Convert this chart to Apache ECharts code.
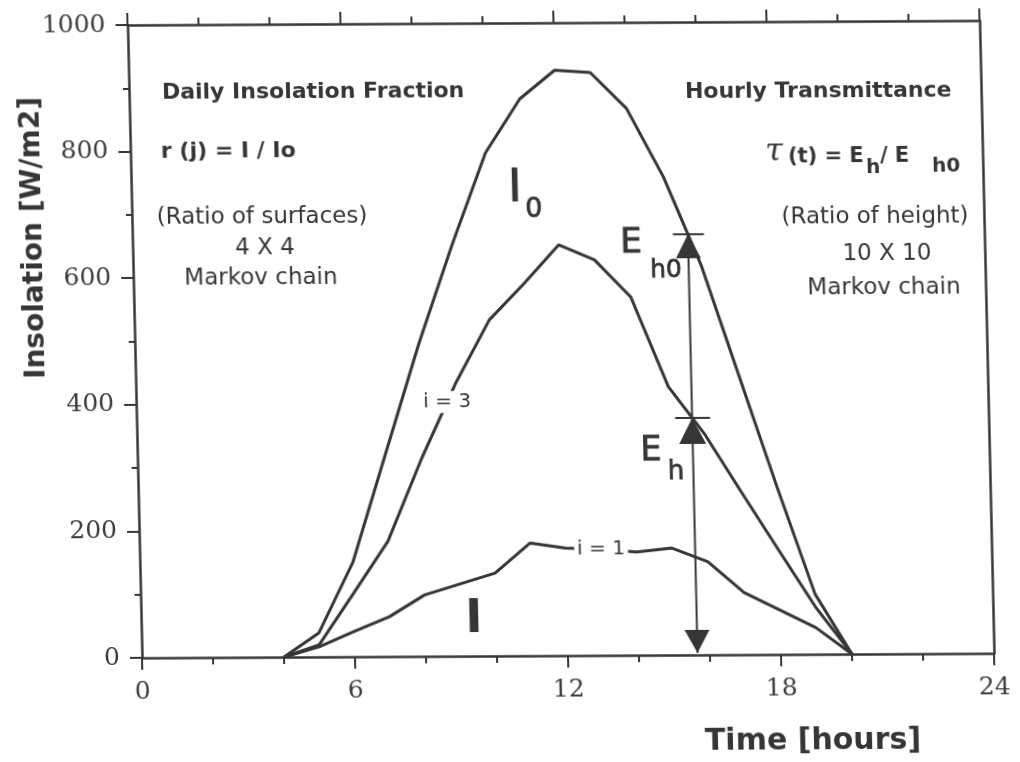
<!DOCTYPE html>
<html>
<head>
<meta charset="utf-8">
<script src="https://cdn.jsdelivr.net/npm/echarts@6/dist/echarts.min.js"></script>
<style>
  html, body { margin: 0; padding: 0; background: #ffffff; overflow: hidden; }
  /* the whole plate is drawn slightly slanted, pivoting on the origin of the axes */
  #chart { width: 1020px; height: 762px; transform-origin: 142px 658px;
           transform: matrix(1, -0.0053, 0.0229, 1, 0, 0); }
</style>
</head>
<body>
<div id="chart"></div>
<script>
// ---- data -----------------------------------------------------------------
const hours = [4, 5, 6, 7, 8, 9, 10, 11, 12, 13, 14, 15, 16, 17, 18, 19, 20];
// extraterrestrial / clear-sky insolation I0 [W/m2]
const clearSky = [0, 38, 149, 322, 494, 650, 795, 880, 925, 921, 864, 755, 616, 440, 264, 95, 0];
// Markov state i = 3
const stateThree = [0, 19, 100, 182, 312, 430, 531, 588, 649, 625, 566, 424, 348, 256, 165, 75, 0];
// Markov state i = 1 (insolation I)
const stateOne = [0, 16, 40, 63, 97, 114, 131, 178, 170, 168, 163, 169, 147, 98, 70, 42, 0];

const xTickValues = [0, 6, 12, 18, 24];
const yTickValues = [0, 200, 400, 600, 800, 1000];

const arrowHour = 15.65;          // where E_h and E_h0 are measured
const stateLabels = [
  { text: 'i = 3', hour: 8.76, series: stateThree },
  { text: 'i = 1', hour: 13, series: stateOne }
];

// ---- helpers --------------------------------------------------------------
const INK = '#363636';
const SANS = '"DejaVu Sans", "Liberation Sans", sans-serif';
const SERIF = '"DejaVu Serif", "Liberation Serif", serif';

function valueAt(series, t) {
  for (let k = 0; k < hours.length - 1; k++) {
    if (t >= hours[k] && t <= hours[k + 1]) {
      const f = (t - hours[k]) / (hours[k + 1] - hours[k]);
      return series[k] + f * (series[k + 1] - series[k]);
    }
  }
  return 0;
}
function pairs(series) { return hours.map((h, k) => [h, series[k]]); }

// screen position -> position inside the slanted plate
const SX = 0.0229, SY = -0.0053, OX = 142, OY = 658;
function page(x, y) {
  const u = x - OX, v = y - OY, det = 1 - SX * SY;
  return [OX + (u - SX * v) / det, OY + (v - SY * u) / det];
}
function label(text, x, y, font, align, rotation, weight) {
  const p = page(x, y);
  const style = { text: text, font: font, fill: INK, textAlign: align || 'left', textVerticalAlign: 'middle' };
  if (weight) { style.stroke = INK; style.lineWidth = weight; }
  return { type: 'text', x: p[0], y: p[1], rotation: rotation || 0, z: 50, style: style };
}

// ---- axes -----------------------------------------------------------------
const xStep = xTickValues[1] - xTickValues[0];
const yStep = yTickValues[1] - yTickValues[0];
const lineAxis = { show: true, onZero: false, lineStyle: { color: INK, width: 2.5 } };
const tickFont = { margin: 22, color: '#3c3c3c', fontFamily: SERIF, fontSize: 25, formatter: v => String(v) };

function xAxisDef(pos, labels) {
  return {
    type: 'value', position: pos,
    min: xTickValues[0], max: xTickValues[xTickValues.length - 1], interval: xStep,
    axisLine: lineAxis,
    axisTick: { show: true, inside: false, length: 12, lineStyle: { color: INK, width: 2 } },
    minorTick: { show: true, splitNumber: 3, length: 7, lineStyle: { color: INK, width: 2 } },
    axisLabel: Object.assign({ show: labels }, tickFont),
    splitLine: { show: false }, minorSplitLine: { show: false }
  };
}
function yAxisDef(pos, labels) {
  return {
    type: 'value', position: pos,
    min: yTickValues[0], max: yTickValues[yTickValues.length - 1], interval: yStep,
    axisLine: lineAxis,
    axisTick: { show: labels, inside: false, length: 12, lineStyle: { color: INK, width: 2 } },
    minorTick: { show: labels, splitNumber: 2, length: 6, lineStyle: { color: INK, width: 2 } },
    axisLabel: Object.assign({ show: labels }, tickFont),
    splitLine: { show: false }, minorSplitLine: { show: false }
  };
}

// ---- series ---------------------------------------------------------------
function curve(name, series) {
  return {
    name: name, type: 'line', data: pairs(series), showSymbol: false, symbol: 'none',
    lineStyle: { color: INK, width: 3 }, z: 3, animation: false, silent: true
  };
}

function renderArrow(params, api) {
  const t = api.value(0);
  const top = api.coord([t, api.value(1)]);
  const mid = api.coord([t, api.value(2)]);
  const bot = api.coord([t, 0]);
  const x = top[0];
  const st = { stroke: INK, lineWidth: 2 };
  return {
    type: 'group',
    children: [
      { type: 'line', shape: { x1: x, y1: top[1], x2: x, y2: bot[1] - 2 }, style: st },
      { type: 'line', shape: { x1: x - 15, y1: top[1], x2: x + 16, y2: top[1] }, style: st },
      { type: 'line', shape: { x1: x - 17, y1: mid[1], x2: x + 18, y2: mid[1] }, style: st },
      { type: 'polygon', shape: { points: [[x, top[1]], [x - 12.5, top[1] + 24], [x + 12.5, top[1] + 24]] }, style: { fill: INK } },
      { type: 'polygon', shape: { points: [[x, mid[1]], [x - 13.5, mid[1] + 26], [x + 13.5, mid[1] + 26]] }, style: { fill: INK } },
      { type: 'polygon', shape: { points: [[x, bot[1] - 2], [x - 12.5, bot[1] - 25], [x + 12.5, bot[1] - 25]] }, style: { fill: INK } }
    ]
  };
}

function renderStateLabel(params, api) {
  const p = api.coord([api.value(0), api.value(1)]);
  return {
    type: 'text', x: p[0], y: p[1],
    style: {
      text: stateLabels[params.dataIndex].text, font: '20px ' + SANS, fill: INK,
      align: 'center', verticalAlign: 'middle', backgroundColor: '#ffffff', padding: [1, 3]
    }
  };
}

// ---- option ---------------------------------------------------------------
const option = {
  backgroundColor: '#ffffff',
  animation: false,
  grid: { left: 142, right: 26, top: 25, bottom: 104, containLabel: false, outerBoundsMode: 'none' },
  xAxis: [xAxisDef('bottom', true), xAxisDef('top', false)],
  yAxis: [yAxisDef('left', true), yAxisDef('right', false)],
  series: [
    curve('I0', clearSky),
    curve('i = 3', stateThree),
    curve('i = 1', stateOne),
    {
      type: 'custom', renderItem: renderArrow, z: 5, silent: true,
      data: [[arrowHour, valueAt(clearSky, arrowHour), valueAt(stateThree, arrowHour)]]
    },
    {
      type: 'custom', renderItem: renderStateLabel, z: 6, silent: true,
      data: stateLabels.map(s => [s.hour, valueAt(s.series, s.hour)])
    }
  ],
  graphic: { elements: [
    // left block
    label('Daily Insolation Fraction', 162, 93, 'bold 22px ' + SANS),
    label('r (j) = I / Io', 161, 152, 'bold 22px ' + SANS),
    label('(Ratio of surfaces)', 262, 217, '23px ' + SANS, 'center'),
    label('4 X 4', 265, 248, '23px ' + SANS, 'center'),
    label('Markov chain', 261, 278, '23px ' + SANS, 'center'),
    // right block
    label('Hourly Transmittance', 685, 92, 'bold 22px ' + SANS),
    label('\u03C4', 774, 152, 'italic 32px ' + SERIF, 'center'),
    label('(t) = E', 788, 157, 'bold 21px ' + SANS),
    label('h', 866, 168, 'bold 20px ' + SANS),
    label('/ E', 880, 157, 'bold 21px ' + SANS),
    label('h0', 932, 167, 'bold 20px ' + SANS),
    label('(Ratio of height)', 875, 217, '23px ' + SANS, 'center'),
    label('10 X 10', 887, 254, '23px ' + SANS, 'center'),
    label('Markov chain', 884, 288, '23px ' + SANS, 'center'),
    // curve names
    label('I', 515, 189, '45px ' + SANS, 'center', 0, 1.2),
    label('0', 534, 210, '27px ' + SANS, 'center', 0, 0.8),
    label('E', 631, 244, '34px ' + SANS, 'center', 0, 1),
    label('h0', 666, 271, '25px ' + SANS, 'center', 0, 0.8),
    label('E', 651, 452, '33px ' + SANS, 'center', 0, 1),
    label('h', 676, 472, '26px ' + SANS, 'center', 0, 0.8),
    label('I', 474, 620, 'bold 46px ' + SANS, 'center'),
    // axis titles
    label('Time [hours]', 813, 742, 'bold 30px ' + SANS, 'center'),
    label('Insolation [W/m2]', 34, 238, 'bold 28px ' + SANS, 'center', Math.PI / 2)
  ] }
};

const chart = echarts.init(document.getElementById('chart'), null, { renderer: 'canvas' });
chart.setOption(option);
</script>
</body>
</html>
